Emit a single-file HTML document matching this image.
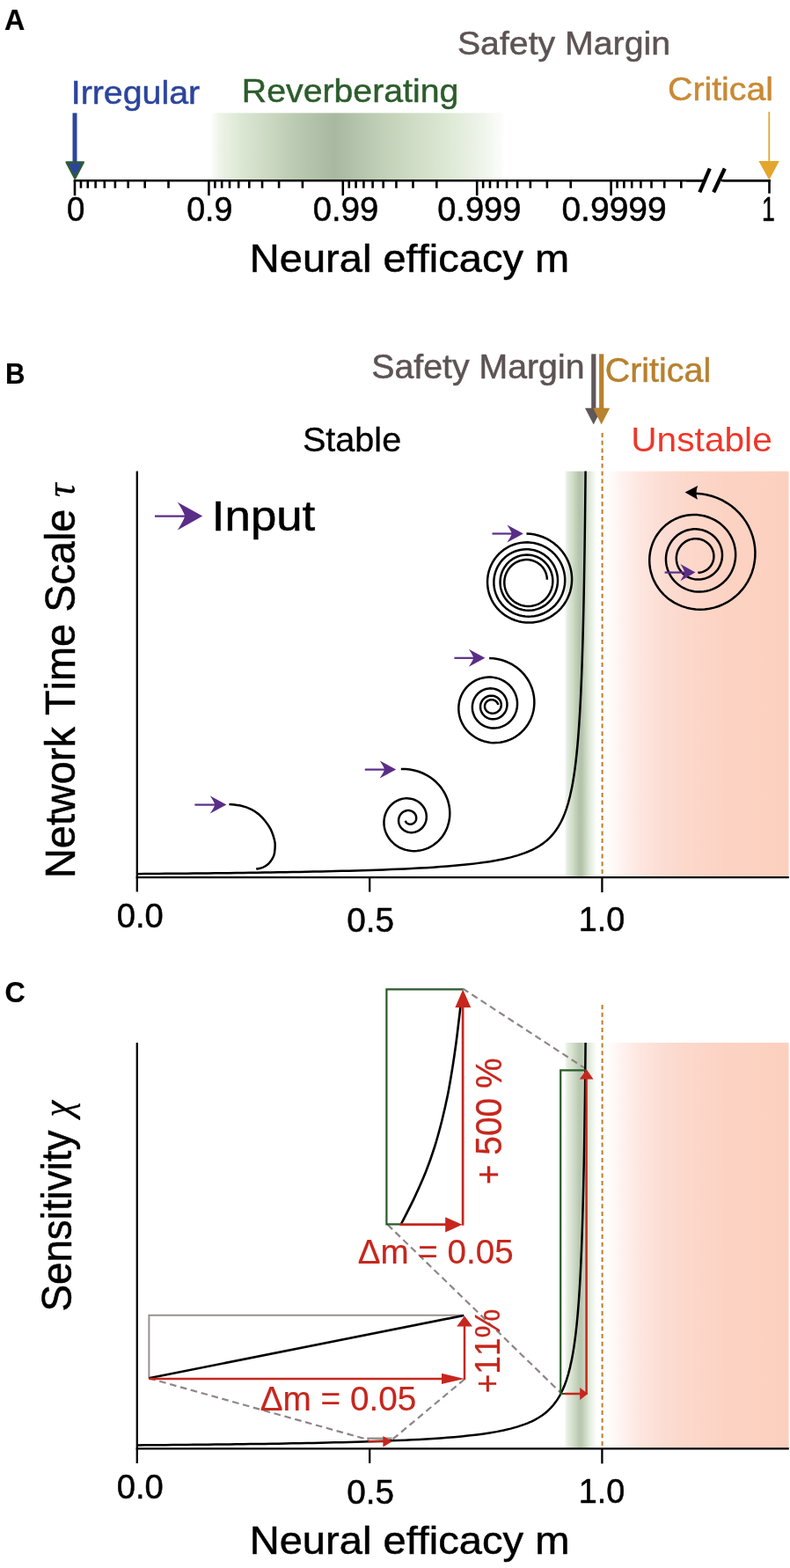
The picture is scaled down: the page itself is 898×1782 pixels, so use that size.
<!DOCTYPE html>
<html lang="en"><head><meta charset="utf-8"><title>Figure</title>
<style>html,body{margin:0;padding:0;background:#fff}svg{display:block}text{font-family:"Liberation Sans", sans-serif;font-kerning:none;font-variant-ligatures:none;}</style></head>
<body>
<svg width="898" height="1782" viewBox="0 0 898 1782">
<rect width="898" height="1782" fill="#fff"/>
<defs>
<linearGradient id="gA" x1="0" x2="1" y1="0" y2="0"><stop offset="0" stop-color="#ffffff"/><stop offset="0.03" stop-color="#eef4e9"/><stop offset="0.10" stop-color="#dde8d4"/><stop offset="0.30" stop-color="#b9c8b0"/><stop offset="0.42" stop-color="#a9b9a1"/><stop offset="0.60" stop-color="#c4d2ba"/><stop offset="0.80" stop-color="#dde8d4"/><stop offset="0.92" stop-color="#eef4ea"/><stop offset="1" stop-color="#ffffff"/></linearGradient>
<linearGradient id="gB" x1="0" x2="1" y1="0" y2="0"><stop offset="0" stop-color="#f3f7f0"/><stop offset="0.10" stop-color="#e0e9d9"/><stop offset="0.22" stop-color="#d2dfca"/><stop offset="0.33" stop-color="#c3d1ba"/><stop offset="0.45" stop-color="#b3c2aa"/><stop offset="0.53" stop-color="#b5c4ac"/><stop offset="0.68" stop-color="#d0dcc8"/><stop offset="0.78" stop-color="#e2ebdc"/><stop offset="0.90" stop-color="#f2f6ef"/><stop offset="1" stop-color="#ffffff"/></linearGradient>
<linearGradient id="gR" x1="0" x2="1" y1="0" y2="0"><stop offset="0" stop-color="#ffffff"/><stop offset="0.04" stop-color="#fffbfa"/><stop offset="0.085" stop-color="#fef4f1"/><stop offset="0.20" stop-color="#fde6df"/><stop offset="0.32" stop-color="#fcddd3"/><stop offset="0.43" stop-color="#fcd8cc"/><stop offset="0.66" stop-color="#fcd3c3"/><stop offset="1" stop-color="#fcd0bf"/></linearGradient>
</defs>
<text transform="translate(5.09 33.8) scale(0.9897 1.0000)" font-size="32.57" fill="#000" stroke="#000" stroke-width="0.2" font-weight="bold">A</text>
<text transform="translate(519.93 62.2) scale(1.0474 1.0000)" font-size="37.47" fill="#5d5354" stroke="#5d5354" stroke-width="0.5">Safety Margin</text>
<text transform="translate(80.76 118.2) scale(1.0413 1.0000)" font-size="37.78" fill="#2c459c" stroke="#2c459c" stroke-width="0.5">Irregular</text>
<text transform="translate(274.86 116) scale(1.0390 1.0000)" font-size="37.78" fill="#2c5c2c" stroke="#2c5c2c" stroke-width="0.5">Reverberating</text>
<text transform="translate(759.04 114.3) scale(1.0399 1.0000)" font-size="37.78" fill="#c98a35" stroke="#c98a35" stroke-width="0.5">Critical</text>
<rect x="239" y="128.4" width="336" height="77.4" fill="url(#gA)"/>
<g stroke="#000" stroke-width="2.6" fill="none">
<line x1="83.7" y1="205.3" x2="875.8" y2="205.3"/>
<line x1="85" y1="205.3" x2="85" y2="222.3"/>
<line x1="91.97" y1="205.3" x2="91.97" y2="213.8"/>
<line x1="99.77" y1="205.3" x2="99.77" y2="213.8"/>
<line x1="108.61" y1="205.3" x2="108.61" y2="213.8"/>
<line x1="118.81" y1="205.3" x2="118.81" y2="213.8"/>
<line x1="130.88" y1="205.3" x2="130.88" y2="213.8"/>
<line x1="145.65" y1="205.3" x2="145.65" y2="213.8"/>
<line x1="164.69" y1="205.3" x2="164.69" y2="213.8"/>
<line x1="191.52" y1="205.3" x2="191.52" y2="213.8"/>
<line x1="237.4" y1="205.3" x2="237.4" y2="222.3"/>
<line x1="244.37" y1="205.3" x2="244.37" y2="213.8"/>
<line x1="252.17" y1="205.3" x2="252.17" y2="213.8"/>
<line x1="261.01" y1="205.3" x2="261.01" y2="213.8"/>
<line x1="271.21" y1="205.3" x2="271.21" y2="213.8"/>
<line x1="283.28" y1="205.3" x2="283.28" y2="213.8"/>
<line x1="298.05" y1="205.3" x2="298.05" y2="213.8"/>
<line x1="317.09" y1="205.3" x2="317.09" y2="213.8"/>
<line x1="343.92" y1="205.3" x2="343.92" y2="213.8"/>
<line x1="389.8" y1="205.3" x2="389.8" y2="222.3"/>
<line x1="396.77" y1="205.3" x2="396.77" y2="213.8"/>
<line x1="404.57" y1="205.3" x2="404.57" y2="213.8"/>
<line x1="413.41" y1="205.3" x2="413.41" y2="213.8"/>
<line x1="423.61" y1="205.3" x2="423.61" y2="213.8"/>
<line x1="435.68" y1="205.3" x2="435.68" y2="213.8"/>
<line x1="450.45" y1="205.3" x2="450.45" y2="213.8"/>
<line x1="469.49" y1="205.3" x2="469.49" y2="213.8"/>
<line x1="496.32" y1="205.3" x2="496.32" y2="213.8"/>
<line x1="542.2" y1="205.3" x2="542.2" y2="222.3"/>
<line x1="549.17" y1="205.3" x2="549.17" y2="213.8"/>
<line x1="556.97" y1="205.3" x2="556.97" y2="213.8"/>
<line x1="565.81" y1="205.3" x2="565.81" y2="213.8"/>
<line x1="576.01" y1="205.3" x2="576.01" y2="213.8"/>
<line x1="588.08" y1="205.3" x2="588.08" y2="213.8"/>
<line x1="602.85" y1="205.3" x2="602.85" y2="213.8"/>
<line x1="621.89" y1="205.3" x2="621.89" y2="213.8"/>
<line x1="648.72" y1="205.3" x2="648.72" y2="213.8"/>
<line x1="694.6" y1="205.3" x2="694.6" y2="222.3"/>
<line x1="701.57" y1="205.3" x2="701.57" y2="213.8"/>
<line x1="709.37" y1="205.3" x2="709.37" y2="213.8"/>
<line x1="718.21" y1="205.3" x2="718.21" y2="213.8"/>
<line x1="728.41" y1="205.3" x2="728.41" y2="213.8"/>
<line x1="740.48" y1="205.3" x2="740.48" y2="213.8"/>
<line x1="755.25" y1="205.3" x2="755.25" y2="213.8"/>
<line x1="774.29" y1="205.3" x2="774.29" y2="213.8"/>
<line x1="874.5" y1="205.3" x2="874.5" y2="219.8"/>
</g>
<rect x="800" y="203" width="22" height="5" fill="#fff"/>
<line x1="795.3" y1="218.5" x2="806.8" y2="191.5" stroke="#000" stroke-width="4.3"/>
<line x1="811.2" y1="218.5" x2="823.8" y2="191.5" stroke="#000" stroke-width="4.3"/>
<line x1="820" y1="205.3" x2="875.8" y2="205.3" stroke="#000" stroke-width="2.6"/>
<line x1="780" y1="205.3" x2="801" y2="205.3" stroke="#000" stroke-width="2.6"/>
<line x1="85" y1="128.4" x2="85" y2="188" stroke="#2c459c" stroke-width="5"/>
<path d="M75.6 184.4 L94.8 184.4 L85.2 202.6Z" fill="#2c459c" stroke="#2f5d33" stroke-width="2.4" stroke-linejoin="round"/>
<line x1="874.3" y1="127" x2="874.3" y2="186" stroke="#e3a52d" stroke-width="1.8"/>
<path d="M862.4 183 L885.8 183 L874.3 204.5Z" fill="#e3a52d"/>
<text transform="translate(75.93 250.6) scale(0.9548 1.0000)" font-size="38.4" fill="#000" stroke="#000" stroke-width="0.5">0</text>
<text transform="translate(212.2 250.6) scale(0.9798 1.0000)" font-size="38.4" fill="#000" stroke="#000" stroke-width="0.5">0.9</text>
<text transform="translate(355.87 250.6) scale(0.9954 1.0000)" font-size="38.4" fill="#000" stroke="#000" stroke-width="0.5">0.99</text>
<text transform="translate(497.18 250.6) scale(0.9909 1.0000)" font-size="38.4" fill="#000" stroke="#000" stroke-width="0.5">0.999</text>
<text transform="translate(638.44 250.6) scale(1.0154 1.0000)" font-size="38.4" fill="#000" stroke="#000" stroke-width="0.5">0.9999</text>
<text transform="translate(865.9 250.6) scale(0.6944 1.0000)" font-size="38.4" fill="#000" stroke="#000" stroke-width="0.5">1</text>
<text transform="translate(283.84 309.2) scale(1.0392 1.0000)" font-size="45.27" fill="#000" stroke="#000" stroke-width="0.5">Neural efficacy m</text>
<text transform="translate(5.88 435.6) scale(0.9562 1.0000)" font-size="32.57" fill="#000" stroke="#000" stroke-width="0.2" font-weight="bold">B</text>
<text transform="translate(422.23 430.4) scale(1.0339 1.0000)" font-size="37.99" fill="#5d5354" stroke="#5d5354" stroke-width="0.5">Safety Margin</text>
<text transform="translate(687.73 433.8) scale(1.0378 1.0000)" font-size="37.99" fill="#b7812f" stroke="#b7812f" stroke-width="0.5">Critical</text>
<text transform="translate(343.92 512.9) scale(1.0013 1.0000)" font-size="39.55" fill="#000" stroke="#000" stroke-width="0.3">Stable</text>
<text transform="translate(717.25 512.9) scale(1.0287 1.0000)" font-size="39.55" fill="#ec382a" stroke="#ec382a" stroke-width="0">Unstable</text>
<rect x="686" y="535.6" width="210.6" height="461.5" fill="url(#gR)"/>
<rect x="642.4" y="535.6" width="36" height="461.5" fill="url(#gB)" opacity="1"/>
<line x1="684.6" y1="492" x2="684.6" y2="997.1" stroke="#c07f2a" stroke-width="2.05" stroke-dasharray="5 3.7"/>
<g stroke="#000" stroke-width="2.3" fill="none">
<line x1="155.8" y1="535.6" x2="155.8" y2="1013.6"/>
<line x1="154.7" y1="997.1" x2="896.8" y2="997.1"/>
<line x1="420.2" y1="997.1" x2="420.2" y2="1013.6"/>
<line x1="684.4" y1="997.1" x2="684.4" y2="1014.1"/>
<path d="M156.5 993.14 L164.5 993.07 L172.5 993.01 L180.5 992.94 L188.5 992.87 L196.5 992.8 L204.5 992.73 L212.5 992.65 L220.5 992.57 L228.5 992.49 L236.5 992.4 L244.5 992.32 L252.5 992.22 L260.5 992.13 L268.5 992.03 L276.5 991.93 L284.5 991.82 L292.5 991.71 L300.5 991.59 L308.5 991.47 L316.5 991.34 L324.5 991.21 L332.5 991.07 L340.5 990.92 L348.5 990.77 L356.5 990.61 L364.5 990.44 L372.5 990.26 L380.5 990.07 L388.5 989.87 L396.5 989.66 L404.5 989.43 L412.5 989.19 L420.5 988.94 L428.5 988.67 L436.5 988.38 L444.5 988.07 L452.5 987.74 L460.5 987.38 L468.5 987 L476.5 986.58 L484.5 986.13 L492.5 985.63 L500.5 985.09 L508.5 984.5 L516.5 983.84 L524.5 983.11 L532.5 982.3 L540.5 981.38 L548.5 980.35 L556.5 979.17 L564.5 977.81 L572.5 976.22 L580.5 974.36 L588.5 972.12 L596.5 969.4 L600 968.02 L602 967.16 L604 966.26 L606 965.29 L608 964.27 L610 963.17 L612 962 L614 960.75 L616 959.4 L618 957.95 L620 956.39 L622 954.69 L624 952.85 L626 950.84 L628 948.63 L630 946.21 L632 943.53 L634 940.56 L636 937.23 L638 933.49 L640 929.25 L642 924.4 L644 918.81 L646 912.28 L648 904.57 L650 895.32 L650.25 894.03 L650.5 892.71 L650.75 891.35 L651 889.96 L651.25 888.53 L651.5 887.07 L651.75 885.56 L652 884.01 L652.25 882.42 L652.5 880.78 L652.75 879.09 L653 877.36 L653.25 875.57 L653.5 873.73 L653.75 871.83 L654 869.88 L654.25 867.86 L654.5 865.77 L654.75 863.62 L655 861.39 L655.25 859.09 L655.5 856.71 L655.75 854.25 L656 851.7 L656.25 849.06 L656.5 846.31 L656.75 843.47 L657 840.52 L657.25 837.45 L657.5 834.25 L657.75 830.93 L658 827.47 L658.25 823.86 L658.5 820.09 L658.75 816.16 L659 812.05 L659.25 807.74 L659.5 803.23 L659.75 798.5 L660 793.54 L660.25 788.32 L660.5 782.83 L660.75 777.04 L661 770.92 L661.25 764.46 L661.5 757.62 L661.75 750.36 L662 742.65 L662.25 734.44 L662.5 725.69 L662.75 716.33 L663 706.3 L663.25 695.53 L663.5 683.93 L663.75 671.4 L664 657.83 L664.25 643.08 L664.5 626.99 L664.75 609.37 L665 589.98 L665.25 568.55 L665.5 544.74 L665.59 535.6" stroke-width="2.5"/>
</g>
<line x1="674.8" y1="402.3" x2="674.8" y2="466" stroke="#5f5759" stroke-width="5.2"/>
<path d="M665 463.7 L684.5 463.7 L674.7 482.5Z" fill="#5f5759"/>
<line x1="683.7" y1="402.3" x2="683.7" y2="466" stroke="#b9822e" stroke-width="5.2"/>
<path d="M674.3 463.7 L693.2 463.7 L683.6 482.5Z" fill="#b9822e"/>
<text transform="translate(132.67 1053.5) scale(0.9653 1.0000)" font-size="39.55" fill="#000" stroke="#000" stroke-width="0.5">0.0</text>
<text transform="translate(394.25 1059.2) scale(0.9806 1.0000)" font-size="39.55" fill="#000" stroke="#000" stroke-width="0.5">0.5</text>
<text transform="translate(657.67 1058.2) scale(0.9542 1.0000)" font-size="39.55" fill="#000" stroke="#000" stroke-width="0.5">1.0</text>
<text transform="translate(84.8 998.05) rotate(-90) scale(0.9734 1.0000)" font-size="48.18" fill="#000" stroke="#000" stroke-width="0.5">Network Time Scale</text>
<text transform="translate(85.2 564.88) rotate(-90) scale(0.9146 1.0000)" font-size="47.87" fill="#000" stroke="#000" stroke-width="0.3" style="font-family:'Liberation Serif',serif;font-style:italic">τ</text>
<line x1="176" y1="586.6" x2="213.16" y2="586.6" stroke="#5a2d87" stroke-width="2.1"/>
<path d="M230.2 586.6 L201.8 570.7 Q208.05 580.24 210.32 586.6 L210.32 586.6 Q208.05 592.96 201.8 602.5Z" fill="#5a2d87"/>
<text transform="translate(240.85 602.8) scale(1.0887 1.0000)" font-size="48.5" fill="#000" stroke="#000" stroke-width="0.5">Input</text>
<line x1="221.4" y1="914.6" x2="246.3" y2="914.6" stroke="#5a2d87" stroke-width="2.2"/>
<path d="M257.4 914.6 L238.9 904.6 Q242.97 910.6 244.45 914.6 L244.45 914.6 Q242.97 918.6 238.9 924.6Z" fill="#5a2d87"/>
<path d="M260.49 913.99 C262.62 914.25 269.07 914.59 273.28 915.55 C277.49 916.51 282.24 918.09 285.75 919.76 C289.26 921.42 291.73 923.32 294.32 925.53 C296.92 927.73 299.18 930.33 301.34 933.01 C303.5 935.69 305.71 938.73 307.27 941.58 C308.82 944.44 309.81 947.43 310.7 950.16 C311.58 952.89 312.25 955.62 312.57 957.95 C312.88 960.29 312.72 961.98 312.57 964.19 C312.41 966.4 312.2 969.13 311.63 971.21 C311.06 973.29 310.12 975.03 309.14 976.66 C308.15 978.3 307.01 979.73 305.71 981.03 C304.41 982.33 302.9 983.52 301.34 984.46 C299.78 985.39 298.04 986.12 296.35 986.64 C294.66 987.16 292.06 987.42 291.21 987.58" fill="none" stroke="#000" stroke-width="2.5"/>
<line x1="414.8" y1="874.6" x2="439.1" y2="874.6" stroke="#5a2d87" stroke-width="2.2"/>
<path d="M450.2 874.6 L431.7 864.6 Q435.77 870.6 437.25 874.6 L437.25 874.6 Q435.77 878.6 431.7 884.6Z" fill="#5a2d87"/>
<path d="M455.82 873.99 L460.91 874.04 L465.91 874.53 L470.8 875.45 L475.53 876.78 L480.07 878.5 L484.39 880.59 L488.46 883.02 L492.26 885.76 L495.76 888.8 L498.94 892.09 L501.78 895.61 L504.26 899.32 L506.38 903.19 L508.13 907.18 L509.5 911.27 L510.48 915.4 L511.09 919.56 L511.33 923.7 L511.2 927.8 L510.71 931.82 L509.88 935.72 L508.71 939.49 L507.24 943.1 L505.48 946.51 L503.45 949.72 L501.17 952.69 L498.67 955.41 L495.97 957.86 L493.12 960.05 L490.12 961.95 L487.01 963.56 L483.81 964.87 L480.56 965.89 L477.27 966.61 L473.98 967.03 L470.7 967.17 L467.47 967.02 L464.3 966.59 L461.22 965.9 L458.26 964.95 L455.42 963.77 L452.73 962.36 L450.21 960.74 L447.87 958.93 L445.72 956.95 L443.78 954.81 L442.06 952.54 L440.55 950.16 L439.28 947.69 L438.24 945.15 L437.44 942.56 L436.87 939.94 L436.54 937.31 L436.44 934.7 L436.57 932.12 L436.92 929.59 L437.48 927.13 L438.25 924.76 L439.21 922.49 L440.35 920.34 L441.65 918.32 L443.12 916.45 L444.72 914.73 L446.44 913.17 L448.27 911.79 L450.19 910.58 L452.19 909.56 L454.24 908.73 L456.33 908.09 L458.45 907.63 L460.58 907.37 L462.7 907.29 L464.79 907.4 L466.84 907.69 L468.84 908.15 L470.76 908.77 L472.61 909.56 L474.36 910.49 L476.01 911.55 L477.53 912.75 L478.94 914.06 L480.21 915.47 L481.33 916.98 L482.3 918.56 L483.12 920.21 L483.78 921.91 L484.28 923.63 L484.61 925.38 L484.79 927.13 L484.8 928.86 L484.67 930.57 L484.38 932.24 L483.95 933.86 L483.38 935.41 L482.69 936.89 L481.87 938.27 L480.95 939.57 L479.93 940.76 L478.82 941.83 L477.63 942.79 L476.39 943.64 L475.09 944.36 L473.76 944.96 L472.4 945.44 L471.02 945.8 L469.64 946.03 L468.26 946.14 L466.89 946.13 L465.54 946.01 L464.23 945.77 L462.96 945.43 L461.74 944.99 L460.57 944.44 L459.47 943.81 L458.44 943.09 L457.48 942.3 L456.61 941.44 L455.82 940.51 L455.13 939.53 L454.54 938.5 L454.05 937.43 L453.65 936.34 L453.36 935.23 L453.18 934.11 L453.09 932.99 L453.11 931.88 L453.22 930.79 L453.43 929.73 L453.72 928.7 L454.11 927.72 L454.57 926.78 L455.11 925.9 L455.72 925.09 L456.38 924.34 L457.11 923.66 L457.88 923.06 L458.69 922.53 L459.53 922.09 L460.39 921.72 L461.27 921.44 L462.16 921.23 L463.06 921.11 L463.95 921.06 L464.83 921.1 L465.69 921.2 L466.52 921.38 L467.33 921.64 L468.1 921.95 L468.84 922.33 L469.52 922.76 L470.16 923.25 L470.74 923.78 L471.27 924.36 L471.74 924.97 L472.14 925.62 L472.49 926.29 L472.76 926.98 L472.97 927.68 L473.11 928.38 L473.19 929.09 L473.2 929.79 L473.15 930.48 L473.05 931.15 L472.88 931.8 L472.66 932.42 L472.39 933.01 L472.07 933.57 L471.7 934.09 L471.3 934.56 L470.87 934.99 L470.41 935.37 L469.92 935.71 L469.42 936 L468.9 936.24 L468.38 936.44 L467.84 936.59 L467.31 936.69 L466.77 936.75 L466.24 936.76 L465.72 936.73 L465.21 936.66 L464.72 936.54 L464.24 936.39 L463.78 936.19 L463.35 935.97 L462.94 935.71 L462.55 935.42 L462.2 935.1 L461.88 934.76 L461.59 934.4 L461.34 934.01 L461.12 933.61 L460.94 933.19 L460.8 932.77" fill="none" stroke="#000" stroke-width="2.5" stroke-linecap="butt" stroke-linejoin="round"/>
<line x1="516.4" y1="747.8" x2="540.3" y2="747.8" stroke="#5a2d87" stroke-width="2.2"/>
<path d="M551.4 747.8 L532.9 737.8 Q536.97 743.8 538.45 747.8 L538.45 747.8 Q536.97 751.8 532.9 757.8Z" fill="#5a2d87"/>
<path d="M556.13 748.06 L560.84 748.32 L565.48 748.98 L570.02 750.04 L574.43 751.48 L578.66 753.3 L582.7 755.46 L586.51 757.96 L590.06 760.76 L593.34 763.84 L596.31 767.18 L598.95 770.76 L601.26 774.52 L603.21 778.46 L604.8 782.52 L606.01 786.68 L606.84 790.91 L607.29 795.16 L607.36 799.41 L607.06 803.62 L606.39 807.76 L605.36 811.79 L603.99 815.69 L602.29 819.43 L600.28 822.97 L597.99 826.3 L595.42 829.39 L592.62 832.22 L589.6 834.78 L586.4 837.05 L583.04 839.02 L579.55 840.68 L575.96 842.03 L572.28 843.05 L568.56 843.75 L564.82 844.12 L561.09 844.17 L557.39 843.9 L553.75 843.32 L550.19 842.43 L546.75 841.25 L543.44 839.78 L540.29 838.04 L537.32 836.05 L534.54 833.82 L531.98 831.38 L529.66 828.74 L527.6 825.91 L525.81 822.92 L524.31 819.8 L523.11 816.58 L522.21 813.28 L521.61 809.94 L521.33 806.58 L521.35 803.23 L521.67 799.92 L522.28 796.68 L523.18 793.53 L524.35 790.5 L525.78 787.62 L527.45 784.9 L529.34 782.37 L531.43 780.04 L533.7 777.92 L536.12 776.03 L538.67 774.38 L541.33 772.96 L544.07 771.78 L546.87 770.85 L549.72 770.17 L552.59 769.73 L555.46 769.54 L558.31 769.59 L561.12 769.88 L563.88 770.41 L566.56 771.16 L569.15 772.13 L571.63 773.31 L573.98 774.68 L576.2 776.23 L578.26 777.96 L580.16 779.85 L581.87 781.88 L583.39 784.04 L584.71 786.32 L585.81 788.68 L586.7 791.12 L587.37 793.62 L587.81 796.15 L588.02 798.69 L588.01 801.22 L587.78 803.73 L587.34 806.2 L586.68 808.6 L585.82 810.92 L584.76 813.14 L583.52 815.25 L582.11 817.22 L580.54 819.06 L578.83 820.73 L576.99 822.24 L575.03 823.58 L572.97 824.72 L570.84 825.67 L568.65 826.43 L566.41 826.99 L564.15 827.34 L561.88 827.49 L559.62 827.44 L557.39 827.19 L555.21 826.75 L553.09 826.13 L551.05 825.32 L549.1 824.34 L547.26 823.21 L545.54 821.92 L543.96 820.5 L542.51 818.96 L541.22 817.31 L540.09 815.56 L539.12 813.74 L538.32 811.85 L537.69 809.92 L537.24 807.95 L536.96 805.97 L536.86 803.99 L536.93 802.02 L537.18 800.08 L537.58 798.18 L538.15 796.34 L538.88 794.57 L539.74 792.89 L540.75 791.3 L541.88 789.81 L543.12 788.44 L544.47 787.19 L545.92 786.08 L547.44 785.1 L549.03 784.26 L550.67 783.57 L552.36 783.04 L554.07 782.65 L555.8 782.42 L557.53 782.33 L559.24 782.4 L560.93 782.62 L562.58 782.98 L564.19 783.48 L565.73 784.11 L567.2 784.87 L568.59 785.75 L569.89 786.74 L571.08 787.83 L572.18 789.01 L573.15 790.27 L574.01 791.6 L574.75 793 L575.36 794.44 L575.83 795.92 L576.18 797.42 L576.39 798.94 L576.47 800.46 L576.42 801.97 L576.24 803.47 L575.93 804.93 L575.5 806.35 L574.96 807.72 L574.29 809.04 L573.53 810.28 L572.66 811.44 L571.7 812.52 L570.66 813.51 L569.53 814.39 L568.34 815.16 L567.09 815.82 L565.8 816.37 L564.47 816.79 L563.12 817.09 L561.75 817.26 L560.38 817.31 L559.03 817.24 L557.69 817.05 L556.39 816.74 L555.13 816.32 L553.92 815.79 L552.78 815.16 L551.7 814.44 L550.7 813.62 L549.79 812.73 L548.96 811.77 L548.24 810.75 L547.61 809.68 L547.09 808.57 L546.67 807.42 L546.35 806.26 L546.14 805.08 L546.04 803.9 L546.04 802.73 L546.15 801.57 L546.36 800.44 L546.66 799.34 L547.05 798.29 L547.53 797.28 L548.1 796.33 L548.73 795.45 L549.44 794.63 L550.21 793.88 L551.03 793.21 L551.89 792.61 L552.78 792.09 L553.71 791.65 L554.66 791.29 L555.63 791.01 L556.61 790.81 L557.6 790.69 L558.58 790.65 L559.56 790.69 L560.53 790.82 L561.49 791.01 L562.42 791.29 L563.32 791.63 L564.19 792.05 L565.02 792.54 L565.8 793.09 L566.54 793.7 L567.22 794.38 L567.83 795.11 L568.37 795.91 L568.82 796.74 L569.2 797.62 L569.48 798.52 L569.68 799.44 L569.79 800.37 L569.81 801.3 L569.74 802.23 L569.59 803.14 L569.34 804.02 L569.02 804.86 L568.63 805.67 L568.16 806.43 L567.63 807.13 L567.04 807.77 L566.4 808.35 L565.72 808.86 L565.01 809.31 L564.28 809.7 L563.53 810.03 L562.77 810.29 L561.99 810.49 L561.21 810.62 L560.42 810.7 L559.64 810.7 L558.87 810.65 L558.1 810.54 L557.36 810.37 L556.63 810.14 L555.92 809.85 L555.25 809.51 L554.6 809.12 L553.99 808.67 L553.41 808.18 L552.89 807.64 L552.43 807.05 L552.02 806.42 L551.68 805.75 L551.41 805.06 L551.2 804.34 L551.07 803.62 L551.01 802.89 L551.03 802.16 L551.11 801.44 L551.26 800.74 L551.47 800.07 L551.75 799.43 L552.09 798.82 L552.48 798.25 L552.91 797.74 L553.39 797.27 L553.9 796.86 L554.44 796.5 L554.99 796.18 L555.55 795.91 L556.13 795.69 L556.71 795.51 L557.29 795.38 L557.88 795.29 L558.46 795.24 L559.05 795.23 L559.62 795.27 L560.2 795.35 L560.76 795.47 L561.31 795.64 L561.85 795.84 L562.37 796.08 L562.87 796.35 L563.36 796.67 L563.82 797.02 L564.26 797.41 L564.67 797.84 L565.05 798.3 L565.38 798.8 L565.67 799.33 L565.92 799.89 L566.11 800.47 L566.26 801.07" fill="none" stroke="#000" stroke-width="2.5" stroke-linecap="butt" stroke-linejoin="round"/>
<line x1="559.5" y1="606.5" x2="583.8" y2="606.5" stroke="#5a2d87" stroke-width="2.2"/>
<path d="M594.9 606.5 L576.4 596.5 Q580.47 602.5 581.95 606.5 L581.95 606.5 Q580.47 610.5 576.4 616.5Z" fill="#5a2d87"/>
<path d="M598.47 606.5 L603.23 606.84 L607.93 607.58 L612.51 608.72 L616.95 610.26 L621.22 612.16 L625.29 614.42 L629.11 617.01 L632.68 619.92 L635.96 623.1 L638.94 626.54 L641.59 630.2 L643.91 634.06 L645.87 638.08 L647.46 642.23 L648.69 646.49 L649.54 650.81 L650 655.17 L650.09 659.53 L649.8 663.86 L649.14 668.13 L648.12 672.31 L646.75 676.37 L645.03 680.27 L643 683.99 L640.66 687.51 L638.03 690.8 L635.15 693.84 L632.03 696.61 L628.7 699.1 L625.19 701.3 L621.51 703.18 L617.7 704.74 L613.78 705.97 L609.78 706.86 L605.73 707.41 L601.66 707.61 L597.58 707.47 L593.54 706.99 L589.56 706.16 L585.67 705.01 L581.89 703.53 L578.25 701.73 L574.77 699.64 L571.48 697.25 L568.41 694.6 L565.57 691.69 L563 688.53 L560.72 685.16 L558.76 681.59 L557.11 677.86 L555.81 674 L554.86 670.04 L554.27 666.01 L554.04 661.95 L554.17 657.89 L554.67 653.85 L555.53 649.88 L556.73 646.01 L558.28 642.26 L560.15 638.68 L562.33 635.28 L564.8 632.09 L567.54 629.15 L570.53 626.47 L573.74 624.08 L577.15 621.99 L580.71 620.21 L584.41 618.76 L588.21 617.64 L592.08 616.87 L596 616.45 L599.92 616.37 L603.82 616.64 L607.67 617.26 L611.44 618.21 L615.09 619.48 L618.61 621.07 L621.95 622.96 L625.11 625.13 L628.04 627.55 L630.74 630.22 L633.19 633.1 L635.37 636.17 L637.27 639.41 L638.87 642.78 L640.16 646.27 L641.15 649.84 L641.82 653.47 L642.16 657.13 L642.19 660.79 L641.91 664.43 L641.31 668.01 L640.4 671.52 L639.19 674.92 L637.71 678.2 L635.94 681.32 L633.92 684.26 L631.66 687.01 L629.18 689.55 L626.5 691.86 L623.64 693.92 L620.63 695.73 L617.48 697.27 L614.21 698.54 L610.86 699.51 L607.45 700.2 L603.99 700.59 L600.52 700.68 L597.06 700.48 L593.63 699.98 L590.26 699.2 L586.98 698.13 L583.8 696.78 L580.75 695.17 L577.85 693.3 L575.12 691.19 L572.57 688.86 L570.25 686.31 L568.16 683.57 L566.32 680.65 L564.76 677.57 L563.48 674.38 L562.49 671.08 L561.8 667.71 L561.42 664.29 L561.35 660.86 L561.58 657.44 L562.12 654.07 L562.96 650.76 L564.09 647.55 L565.5 644.45 L567.18 641.51 L569.11 638.73 L571.28 636.15 L573.66 633.79 L576.24 631.65 L579 629.77 L581.9 628.15 L584.91 626.79 L588.03 625.72 L591.21 624.93 L594.44 624.43 L597.68 624.22 L600.91 624.31 L604.11 624.67 L607.25 625.32 L610.29 626.24 L613.23 627.42 L616.04 628.85 L618.69 630.52 L621.16 632.4 L623.45 634.49 L625.53 636.75 L627.4 639.16 L629.06 641.71 L630.48 644.37 L631.67 647.13 L632.62 649.96 L633.33 652.85 L633.79 655.78 L634 658.72 L633.96 661.66 L633.67 664.57 L633.15 667.45 L632.38 670.26 L631.39 672.98 L630.17 675.61 L628.74 678.13 L627.11 680.51 L625.28 682.74 L623.28 684.81 L621.1 686.7 L618.77 688.39 L616.29 689.86 L613.71 691.11 L611.02 692.13 L608.26 692.9 L605.44 693.43 L602.58 693.71 L599.72 693.74 L596.87 693.52 L594.05 693.05 L591.29 692.33 L588.6 691.37 L586.01 690.18 L583.54 688.78 L581.2 687.16 L579.02 685.34 L577 683.34 L575.18 681.17 L573.55 678.86 L572.14 676.41 L570.95 673.86 L569.99 671.21 L569.26 668.49 L568.78 665.72 L568.55 662.92 L568.56 660.12 L568.82 657.34 L569.32 654.59 L570.06 651.91 L571.03 649.3 L572.23 646.8 L573.63 644.41 L575.24 642.16 L577.04 640.06 L579.02 638.14 L581.16 636.42 L583.44 634.89 L585.84 633.59 L588.34 632.5 L590.92 631.65 L593.56 631.04 L596.23 630.68 L598.91 630.55 L601.58 630.67 L604.22 631.03 L606.8 631.62 L609.31 632.44 L611.71 633.48 L614.01 634.72 L616.16 636.15 L618.17 637.77 L620.01 639.55 L621.69 641.46 L623.18 643.5 L624.5 645.64 L625.63 647.86 L626.57 650.17 L627.31 652.52 L627.85 654.93 L628.19 657.36 L628.33 659.8 L628.27 662.24 L628 664.65 L627.54 667.04 L626.88 669.37 L626.04 671.64 L625.01 673.83 L623.8 675.93 L622.43 677.92 L620.89 679.8 L619.2 681.54 L617.36 683.12 L615.38 684.54 L613.28 685.77 L611.08 686.82 L608.79 687.66 L606.43 688.3 L604.03 688.72 L601.6 688.93 L599.16 688.92 L596.73 688.69 L594.33 688.24 L591.98 687.59 L589.7 686.72 L587.5 685.66 L585.42 684.41 L583.45 682.98 L581.62 681.38 L579.95 679.62 L578.44 677.73 L577.11 675.71 L575.96 673.58 L575.01 671.37 L574.27 669.08 L573.74 666.74 L573.41 664.37 L573.3 661.99 L573.41 659.61 L573.72 657.26 L574.24 654.95 L574.97 652.7 L575.89 650.54 L576.99 648.48 L578.27 646.53 L579.71 644.7 L581.31 643.03 L583.04 641.51 L584.9 640.16 L586.86 639 L588.91 638.02 L591.03 637.24 L593.2 636.65 L595.39 636.27 L597.6 636.08 L599.81 636.1 L601.98 636.31 L604.12 636.72 L606.19 637.31 L608.18 638.09 L610.09 639.03 L611.88 640.13 L613.55 641.38 L615.09 642.77 L616.49 644.27 L617.73 645.88 L618.82 647.58 L619.74 649.35 L620.5 651.17 L621.09 653.04 L621.52 654.93 L621.77 656.83 L621.85 658.73" fill="none" stroke="#000" stroke-width="2.5" stroke-linecap="butt" stroke-linejoin="round"/>
<path d="M793.41 650.8 L794.97 650.7 L796.52 650.47 L798.07 650.09 L799.58 649.57 L801.06 648.92 L802.5 648.14 L803.86 647.22 L805.16 646.17 L806.36 645.01 L807.46 643.72 L808.44 642.33 L809.3 640.84 L810.02 639.27 L810.59 637.63 L811.02 635.94 L811.29 634.2 L811.39 632.44 L811.34 630.66 L811.12 628.89 L810.73 627.14 L810.18 625.42 L809.48 623.76 L808.62 622.17 L807.61 620.65 L806.47 619.24 L805.2 617.93 L803.81 616.74 L802.33 615.67 L800.75 614.74 L799.1 613.94 L797.37 613.29 L795.6 612.79 L793.78 612.44 L791.94 612.25 L790.09 612.23 L788.23 612.36 L786.39 612.66 L784.58 613.11 L782.8 613.73 L781.09 614.49 L779.44 615.41 L777.87 616.46 L776.39 617.66 L775.02 618.97 L773.76 620.41 L772.62 621.96 L771.62 623.6 L770.76 625.33 L770.05 627.13 L769.49 629 L769.09 630.92 L768.86 632.87 L768.8 634.85 L768.91 636.83 L769.19 638.81 L769.64 640.76 L770.26 642.69 L771.05 644.56 L772 646.36 L773.11 648.09 L774.37 649.73 L775.77 651.26 L777.32 652.68 L778.99 653.96 L780.77 655.11 L782.66 656.11 L784.65 656.95 L786.71 657.63 L788.84 658.13 L791.02 658.45 L793.24 658.58 L795.49 658.53 L797.74 658.28 L799.98 657.84 L802.2 657.2 L804.37 656.37 L806.49 655.34 L808.54 654.13 L810.49 652.73 L812.34 651.16 L814.05 649.4 L815.62 647.48 L817.01 645.41 L818.22 643.19 L819.22 640.85 L820.01 638.41 L820.58 635.89 L820.91 633.31 L821.01 630.69 L820.86 628.05 L820.47 625.43 L819.83 622.83 L818.95 620.29 L817.83 617.84 L816.48 615.48 L814.92 613.25 L813.15 611.17 L811.19 609.25 L809.05 607.51 L806.77 605.97 L804.35 604.62 L801.81 603.49 L799.17 602.58 L796.46 601.91 L793.69 601.48 L790.88 601.29 L788.06 601.35 L785.25 601.65 L782.46 602.21 L779.73 603.01 L777.06 604.05 L774.5 605.32 L772.04 606.82 L769.72 608.53 L767.55 610.45 L765.55 612.55 L763.72 614.82 L762.09 617.24 L760.66 619.81 L759.45 622.5 L758.47 625.3 L757.72 628.18 L757.22 631.13 L756.97 634.13 L756.98 637.16 L757.24 640.2 L757.77 643.22 L758.55 646.21 L759.59 649.13 L760.89 651.98 L762.43 654.73 L764.22 657.36 L766.23 659.85 L768.47 662.18 L770.93 664.32 L773.59 666.24 L776.42 667.95 L779.42 669.41 L782.56 670.61 L785.82 671.53 L789.18 672.18 L792.61 672.53 L796.08 672.58 L799.57 672.32 L803.06 671.75 L806.51 670.87 L809.89 669.69 L813.19 668.19 L816.37 666.4 L819.4 664.33 L822.26 661.97 L824.93 659.35 L827.36 656.47 L829.54 653.37 L831.44 650.05 L833.04 646.56 L834.33 642.9 L835.28 639.12 L835.9 635.25 L836.16 631.31 L836.06 627.35 L835.6 623.39 L834.78 619.46 L833.6 615.61 L832.07 611.87 L830.19 608.26 L827.99 604.82 L825.48 601.59 L822.67 598.59 L819.6 595.84 L816.28 593.36 L812.75 591.17 L809.03 589.29 L805.15 587.73 L801.13 586.51 L797 585.64 L792.8 585.12 L788.55 584.97 L784.29 585.19 L780.04 585.78 L775.84 586.74 L771.72 588.06 L767.71 589.75 L763.84 591.78 L760.14 594.15 L756.65 596.85 L753.38 599.86 L750.37 603.15 L747.64 606.71 L745.22 610.52 L743.13 614.54 L741.38 618.76 L740.01 623.14 L739.02 627.64 L738.42 632.24 L738.22 636.91 L738.43 641.6 L739.05 646.28 L740.09 650.91 L741.53 655.47 L743.38 659.91 L745.62 664.19 L748.25 668.29 L751.24 672.17 L754.57 675.8 L758.23 679.14 L762.2 682.17 L766.43 684.87 L770.92 687.2 L775.62 689.14 L780.51 690.68 L785.54 691.79 L790.69 692.47 L795.92 692.69 L801.18 692.46 L806.43 691.77 L811.65 690.62 L816.78 689.01 L821.78 686.94 L826.62 684.43 L831.26 681.48 L835.66 678.11 L839.78 674.35 L843.58 670.21 L847.01 665.7 L850.05 660.88 L852.66 655.77 L854.81 650.41 L856.48 644.84 L857.65 639.11 L858.3 633.26 L858.43 627.34 L858.02 621.4 L857.07 615.49 L855.59 609.66 L853.58 603.96 L851.05 598.43 L848.02 593.13 L844.52 588.1 L840.55 583.39 L836.16 579.03 L831.38 575.07 L826.25 571.54 L820.8 568.45 L815.09 565.85 L809.14 563.75 L803.01 562.17 L796.74 561.13 L790.38 560.65" fill="none" stroke="#000" stroke-width="2.5" stroke-linecap="butt" stroke-linejoin="round"/>
<path d="M778.6 559.6 L793.2 552 Q790 560 793 567.8Z" fill="#000"/>
<line x1="755.6" y1="650.6" x2="780.2" y2="650.6" stroke="#5a2d87" stroke-width="2.2"/>
<path d="M790.4 650.6 L773.4 640.9 Q777.14 646.72 778.5 650.6 L778.5 650.6 Q777.14 654.48 773.4 660.3Z" fill="#5a2d87"/>
<text transform="translate(5.51 1139) scale(0.9889 1.0000)" font-size="32.57" fill="#000" stroke="#000" stroke-width="0.2" font-weight="bold">C</text>
<rect x="686" y="1185" width="210.6" height="461.4" fill="url(#gR)"/>
<rect x="642.4" y="1185" width="36" height="461.4" fill="url(#gB)" opacity="0.92"/>
<line x1="684.6" y1="1142" x2="684.6" y2="1646.4" stroke="#c07f2a" stroke-width="2.05" stroke-dasharray="5 3.7"/>
<g stroke="#8e8585" stroke-width="2.2" fill="none" stroke-dasharray="7.6 4.7">
<line x1="526" y1="1123.5" x2="664.4" y2="1213.7"/>
<line x1="440.6" y1="1391.8" x2="638.2" y2="1583.6"/>
<line x1="169.4" y1="1566.4" x2="419" y2="1636.3"/>
<line x1="528" y1="1567.5" x2="445.7" y2="1636.2"/>
</g>
<g stroke="#000" stroke-width="2.3" fill="none">
<line x1="155.8" y1="1185" x2="155.8" y2="1662.9"/>
<line x1="154.7" y1="1646.4" x2="896.8" y2="1646.4"/>
<line x1="420.2" y1="1646.4" x2="420.2" y2="1662.9"/>
<line x1="684.4" y1="1646.4" x2="684.4" y2="1663.4"/>
<path d="M156.5 1642.44 L164.5 1642.37 L172.5 1642.31 L180.5 1642.24 L188.5 1642.17 L196.5 1642.1 L204.5 1642.03 L212.5 1641.95 L220.5 1641.87 L228.5 1641.79 L236.5 1641.7 L244.5 1641.62 L252.5 1641.52 L260.5 1641.43 L268.5 1641.33 L276.5 1641.23 L284.5 1641.12 L292.5 1641.01 L300.5 1640.89 L308.5 1640.77 L316.5 1640.64 L324.5 1640.51 L332.5 1640.37 L340.5 1640.22 L348.5 1640.07 L356.5 1639.91 L364.5 1639.74 L372.5 1639.56 L380.5 1639.37 L388.5 1639.17 L396.5 1638.96 L404.5 1638.73 L412.5 1638.49 L420.5 1638.24 L428.5 1637.97 L436.5 1637.68 L444.5 1637.37 L452.5 1637.04 L460.5 1636.68 L468.5 1636.3 L476.5 1635.88 L484.5 1635.43 L492.5 1634.93 L500.5 1634.39 L508.5 1633.8 L516.5 1633.14 L524.5 1632.41 L532.5 1631.6 L540.5 1630.68 L548.5 1629.65 L556.5 1628.47 L564.5 1627.11 L572.5 1625.52 L580.5 1623.66 L588.5 1621.42 L596.5 1618.7 L600 1617.32 L602 1616.46 L604 1615.56 L606 1614.59 L608 1613.57 L610 1612.47 L612 1611.3 L614 1610.05 L616 1608.7 L618 1607.25 L620 1605.69 L622 1603.99 L624 1602.15 L626 1600.14 L628 1597.93 L630 1595.51 L632 1592.83 L634 1589.86 L636 1586.53 L638 1582.79 L640 1578.55 L642 1573.7 L644 1568.11 L646 1561.58 L648 1553.87 L650 1544.62 L650.25 1543.33 L650.5 1542.01 L650.75 1540.65 L651 1539.26 L651.25 1537.83 L651.5 1536.37 L651.75 1534.86 L652 1533.31 L652.25 1531.72 L652.5 1530.08 L652.75 1528.39 L653 1526.66 L653.25 1524.87 L653.5 1523.03 L653.75 1521.13 L654 1519.18 L654.25 1517.16 L654.5 1515.07 L654.75 1512.92 L655 1510.69 L655.25 1508.39 L655.5 1506.01 L655.75 1503.55 L656 1501 L656.25 1498.36 L656.5 1495.61 L656.75 1492.77 L657 1489.82 L657.25 1486.75 L657.5 1483.55 L657.75 1480.23 L658 1476.77 L658.25 1473.16 L658.5 1469.39 L658.75 1465.46 L659 1461.35 L659.25 1457.04 L659.5 1452.53 L659.75 1447.8 L660 1442.84 L660.25 1437.62 L660.5 1432.13 L660.75 1426.34 L661 1420.22 L661.25 1413.76 L661.5 1406.92 L661.75 1399.66 L662 1391.95 L662.25 1383.74 L662.5 1374.99 L662.75 1365.63 L663 1355.6 L663.25 1344.83 L663.5 1333.23 L663.75 1320.7 L664 1307.13 L664.25 1292.38 L664.5 1276.29 L664.75 1258.67 L665 1239.28 L665.25 1217.85 L665.5 1194.04 L665.59 1185" stroke-width="2.5"/>
</g>
<path d="M526 1124.3 L439.4 1124.3 L439.4 1391.3 L456 1391.3" fill="none" stroke="#2b5a2b" stroke-width="2.2"/>
<path d="M456.2 1390.7 C458.58 1385.98 465.88 1372.17 470.5 1362.4 C475.12 1352.63 479.98 1341.92 483.9 1332.1 C487.82 1322.28 490.92 1313.32 494 1303.5 C497.08 1293.68 499.87 1283.3 502.4 1273.2 C504.93 1263.1 507.23 1252.72 509.2 1242.9 C511.17 1233.08 512.67 1223.83 514.2 1214.3 C515.73 1204.77 517.18 1194.67 518.4 1185.7 C519.62 1176.73 520.65 1167.52 521.5 1160.5 C522.35 1153.48 522.98 1148.35 523.5 1143.6 C524.02 1138.85 524.42 1133.93 524.6 1132" fill="none" stroke="#000" stroke-width="2.6"/>
<g stroke="#c6261d" stroke-width="2.7" fill="none">
<line x1="454.5" y1="1391.6" x2="510" y2="1391.6"/>
<line x1="526.1" y1="1392.7" x2="526.1" y2="1142"/>
</g>
<path d="M506.2 1383.2 L525.4 1391.8 L506.2 1400.6Z" fill="#c6261d"/>
<path d="M517.4 1145 L526.2 1124.6 L535.2 1145Z" fill="#c6261d"/>
<text transform="translate(406.74 1436.4) scale(0.9751 1.0000)" font-size="39.55" fill="#c6261d" stroke="#c6261d" stroke-width="0.2">Δm = 0.05</text>
<text transform="translate(569.8 1346.25) rotate(-90) scale(0.9973 1.1000)" font-size="39.03" fill="#c6261d" stroke="#c6261d" stroke-width="0.25">+ 500 %</text>
<path d="M666.5 1216.4 L637.2 1216.4 L637.2 1584 L642 1584" fill="none" stroke="#2b5a2b" stroke-width="2.2"/>
<g stroke="#c6261d" stroke-width="2.5" fill="none">
<line x1="641.6" y1="1584" x2="661" y2="1584"/>
<line x1="666.6" y1="1585" x2="666.6" y2="1224"/>
</g>
<path d="M659.2 1577 L668.2 1584 L659.2 1591Z" fill="#c6261d"/>
<path d="M658.8 1226.5 L666.7 1215.2 L674.5 1226.5Z" fill="#c6261d"/>
<path d="M169.4 1566.4 L169.4 1494.7 L527.5 1494.7" fill="none" stroke="#9b9191" stroke-width="2"/>
<line x1="169.4" y1="1566.2" x2="527.2" y2="1495" stroke="#000" stroke-width="2.6"/>
<g stroke="#c6261d" stroke-width="2.5" fill="none">
<line x1="169.4" y1="1566.9" x2="506" y2="1566.9"/>
<line x1="528" y1="1568" x2="528" y2="1505"/>
</g>
<path d="M502 1560.8 L528 1566.9 L502 1573Z" fill="#c6261d"/>
<path d="M519.2 1507.4 L528 1495.4 L537 1507.4Z" fill="#c6261d"/>
<text transform="translate(295.64 1603.3) scale(0.9801 1.0000)" font-size="39.55" fill="#c6261d" stroke="#c6261d" stroke-width="0.2">Δm = 0.05</text>
<text transform="translate(568 1583.25) rotate(-90) scale(1.0314 1.1500)" font-size="35.9" fill="#c6261d" stroke="#c6261d" stroke-width="0.2">+11%</text>
<path d="M418.5 1637 L418.5 1634.8 L445.5 1634.8" fill="none" stroke="#9b9191" stroke-width="2.4"/>
<line x1="418.3" y1="1638.2" x2="438" y2="1638.2" stroke="#c6261d" stroke-width="2.2"/>
<path d="M435.4 1632 L445.8 1638.2 L435.4 1644.6Z" fill="#c6261d"/>
<text transform="translate(132.67 1702.7) scale(0.9653 1.0000)" font-size="39.55" fill="#000" stroke="#000" stroke-width="0.5">0.0</text>
<text transform="translate(394.25 1708.6) scale(0.9806 1.0000)" font-size="39.55" fill="#000" stroke="#000" stroke-width="0.5">0.5</text>
<text transform="translate(657.67 1707.8) scale(0.9542 1.0000)" font-size="39.55" fill="#000" stroke="#000" stroke-width="0.5">1.0</text>
<text transform="translate(80.8 1490.56) rotate(-90) scale(0.9499 1.0100)" font-size="48.18" fill="#000" stroke="#000" stroke-width="0.5">Sensitivity</text>
<text transform="translate(81 1269.51) rotate(-90) scale(0.8652 1.0000)" font-size="49.02" fill="#000" stroke="#000" stroke-width="0.3" style="font-family:'Liberation Serif',serif;font-style:italic">χ</text>
<text transform="translate(283.63 1765.8) scale(1.0404 1.0000)" font-size="45.27" fill="#000" stroke="#000" stroke-width="0.5">Neural efficacy m</text>
</svg>
</body></html>
